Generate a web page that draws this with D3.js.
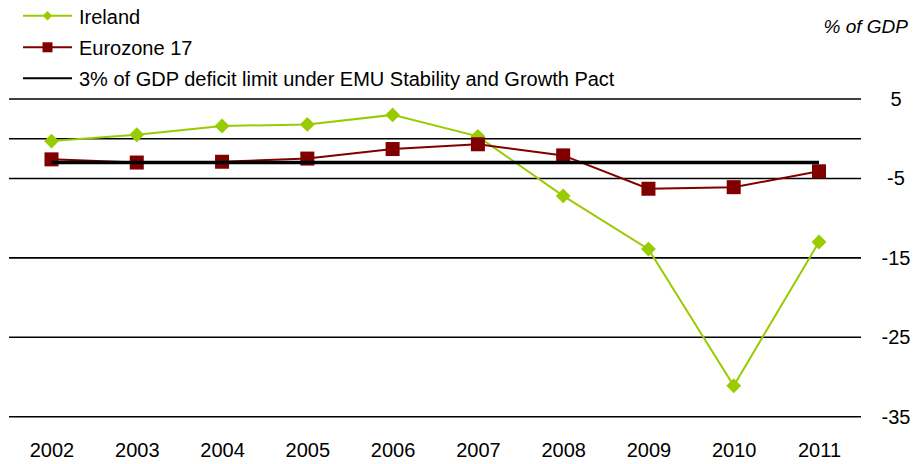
<!DOCTYPE html>
<html><head><meta charset="utf-8">
<script src="https://cdn.jsdelivr.net/npm/d3@7"></script>
<style>
html,body{margin:0;padding:0;background:#fff;}
svg{display:block;font-family:"Liberation Sans",Arial,sans-serif;}
</style></head>
<body>
<svg id="chart" width="917" height="464"></svg>
<script>
const years = ["2002","2003","2004","2005","2006","2007","2008","2009","2010","2011"];
const ireland = [-0.3, 0.5, 1.6, 1.8, 3.0, 0.3, -7.2, -13.9, -31.1, -13.0];
const eurozone = [-2.6, -3.0, -2.9, -2.5, -1.3, -0.7, -2.1, -6.3, -6.1, -4.1];
const limit = [-3, -3, -3, -3, -3, -3, -3, -3, -3, -3];
const gridValues = [5, 0, -5, -15, -25, -35];
const tickValues = [5, -5, -15, -25, -35];
const seriesNames = ["Ireland", "Eurozone 17", "3% of GDP deficit limit under EMU Stability and Growth Pact"];
const unitLabel = "% of GDP";

const svg = d3.select("#chart");
const x = d3.scalePoint().domain(years).range([51.5, 819]);
const y = d3.scaleLinear().domain([-35, 5]).range([416.7, 99]);
const gx0 = 9, gx1 = 861;

// gridlines
svg.append("g").selectAll("line").data(gridValues).join("line")
  .attr("x1", gx0).attr("x2", gx1)
  .attr("y1", d => y(d)).attr("y2", d => y(d))
  .attr("stroke", "#000").attr("stroke-width", 1.6);

// right axis labels
const yAxis = d3.axisRight(y).tickValues(tickValues).tickSize(0).tickPadding(0)
  .tickFormat(d => String(d));
const ya = svg.append("g").attr("transform", "translate(896,0)").call(yAxis);
ya.select(".domain").remove();
ya.selectAll("text").attr("text-anchor", "middle").attr("x", 0)
  .style("font-size", "20px").style("font-family", "'Liberation Sans', Arial, sans-serif").attr("fill", "#000");

// x axis labels
const xAxis = d3.axisBottom(x).tickSize(0).tickPadding(0);
const xa = svg.append("g").attr("transform", "translate(0,443)").call(xAxis);
xa.select(".domain").remove();
xa.selectAll("text").attr("dy", "0.72em")
  .style("font-size", "20px").style("font-family", "'Liberation Sans', Arial, sans-serif").attr("fill", "#000");

const line = d3.line().x((d, i) => x(years[i])).y(d => y(d));
const green = "#99cc00", maroon = "#800000";

// Ireland
svg.append("path").datum(ireland).attr("d", line)
  .attr("fill", "none").attr("stroke", green).attr("stroke-width", 2);
svg.append("g").selectAll("path").data(ireland).join("path")
  .attr("d", d3.symbol(d3.symbolSquare, 110))
  .attr("transform", (d, i) => `translate(${x(years[i])},${y(d)}) rotate(45)`)
  .attr("fill", green);

// Eurozone
svg.append("path").datum(eurozone).attr("d", line)
  .attr("fill", "none").attr("stroke", maroon).attr("stroke-width", 2);
svg.append("g").selectAll("rect").data(eurozone).join("rect")
  .attr("x", (d, i) => x(years[i]) - 7).attr("y", d => y(d) - 7)
  .attr("width", 14).attr("height", 14).attr("fill", maroon);

// 3% limit line
svg.append("path").datum(limit).attr("d", line)
  .attr("fill", "none").attr("stroke", "#000").attr("stroke-width", 3.5);

// legend
const legY = [15.7, 47.3, 78.3];
const lg = svg.append("g");
lg.selectAll("line").data(seriesNames).join("line")
  .attr("x1", 23).attr("x2", 72)
  .attr("y1", (d, i) => legY[i]).attr("y2", (d, i) => legY[i])
  .attr("stroke", (d, i) => [green, maroon, "#000"][i]).attr("stroke-width", 2);
lg.append("path").attr("d", d3.symbol(d3.symbolSquare, 45))
  .attr("transform", `translate(47.5,${legY[0]}) rotate(45)`).attr("fill", green);
lg.append("rect").attr("x", 42.5).attr("y", legY[1] - 5).attr("width", 10).attr("height", 10).attr("fill", maroon);
lg.selectAll("text").data(seriesNames).join("text")
  .attr("x", 79).attr("y", (d, i) => legY[i] + 8)
  .style("font-size", "20px").attr("fill", "#000").text(d => d);

// unit label
svg.append("text").attr("x", 908).attr("y", 33).attr("text-anchor", "end")
  .style("font-size", "19px").style("font-style", "italic").attr("fill", "#000").text(unitLabel);
</script>
</body></html>
